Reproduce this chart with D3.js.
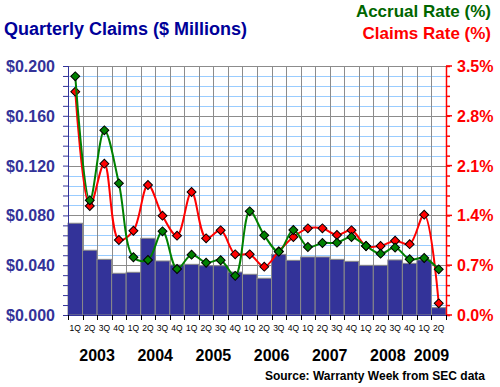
<!DOCTYPE html>
<html>
<head>
<meta charset="utf-8">
<script src="https://cdn.jsdelivr.net/npm/d3@7"></script>
<style>
  body { margin: 0; background: #fff; }
  text { font-family: Arial, "Liberation Sans", sans-serif; }
</style>
</head>
<body>
<div class="chart"></div>
<script>
const years = [2003, 2004, 2005, 2006, 2007, 2008, 2009];
const quarterNames = ["1Q", "2Q", "3Q", "4Q"];
// 2003 Q1 .. 2009 Q2
const claimsMillions = [0.0737, 0.052, 0.0447, 0.0335, 0.0343, 0.0616, 0.0434, 0.0402, 0.0407, 0.0396, 0.0396, 0.0345,
  0.0327, 0.0295, 0.0487, 0.0439, 0.0466, 0.0466, 0.0447, 0.0431, 0.0399, 0.0399, 0.0442, 0.0415, 0.0442, 0.0059];
const accrualRate = [3.355, 1.612, 2.596, 1.851, 0.811, 0.773, 1.176, 0.647, 0.848, 0.735, 0.769, 0.55,
  1.457, 1.12, 0.89, 1.195, 0.956, 1.012, 1.017, 1.096, 0.97, 0.862, 0.948, 0.783, 0.801, 0.642];
const claimsRate = [3.139, 1.532, 2.127, 1.054, 1.185, 1.827, 1.396, 1.115, 1.729, 1.078, 1.19, 0.853,
  0.853, 0.679, 0.895, 1.096, 1.218, 1.218, 1.125, 1.19, 0.97, 0.97, 1.044, 0.996, 1.41, 0.164];
const leftTicks = [0, 0.04, 0.08, 0.12, 0.16, 0.2];
const rightTicks = [0, 0.7, 1.4, 2.1, 2.8, 3.5];

const data = claimsMillions.map((c, i) => ({
  key: i,
  q: quarterNames[i % 4],
  year: years[Math.floor(i / 4)],
  claims: c,
  accrual: accrualRate[i],
  rate: claimsRate[i]
}));

const width = 500, height = 387;
const plot = {left: 68, right: 446, top: 66, bottom: 315};

const svg = d3.select('.chart').append('svg')
  .attr('width', width)
  .attr('height', height);

const x = d3.scaleBand()
  .domain(data.map(d => d.key))
  .range([plot.left, plot.right])
  .padding(0);

const yLeft = d3.scaleLinear().domain([0, 0.2]).range([plot.bottom, plot.top]);
const yRight = d3.scaleLinear().domain([0, 3.5]).range([plot.bottom, plot.top]);

// minor horizontal grid (light blue)
const minorVals = d3.range(0, 26).map(i => i * 0.008);
svg.append('g')
  .selectAll('line')
  .data(minorVals)
  .enter().append('line')
  .attr('x1', plot.left).attr('x2', plot.right)
  .attr('y1', d => Math.round(yLeft(d)) + 0.5)
  .attr('y2', d => Math.round(yLeft(d)) + 0.5)
  .attr('stroke', '#99ccff');

// major horizontal grid (grey)
svg.append('g')
  .selectAll('line')
  .data(leftTicks)
  .enter().append('line')
  .attr('x1', plot.left).attr('x2', plot.right)
  .attr('y1', d => Math.round(yLeft(d)) + 0.5)
  .attr('y2', d => Math.round(yLeft(d)) + 0.5)
  .attr('stroke', '#8c8c8c');

// vertical grid
svg.append('g')
  .selectAll('line')
  .data(data.slice(1))
  .enter().append('line')
  .attr('x1', d => Math.round(x(d.key)) + 0.5)
  .attr('x2', d => Math.round(x(d.key)) + 0.5)
  .attr('y1', plot.top).attr('y2', plot.bottom)
  .attr('stroke', '#8c8c8c');

// bars
svg.append('g')
  .selectAll('rect')
  .data(data)
  .enter().append('rect')
  .attr('x', d => x(d.key))
  .attr('width', x.bandwidth())
  .attr('y', d => yLeft(d.claims))
  .attr('height', d => plot.bottom - yLeft(d.claims))
  .attr('fill', '#333399')
  .attr('stroke', '#8a8a8a')
  .attr('stroke-width', 1);

// left axis
const leftAxis = d3.axisLeft(yLeft)
  .tickValues(minorVals)
  .tickSize(5)
  .tickFormat('');
svg.append('g')
  .attr('class', 'axis y-left')
  .attr('transform', `translate(${plot.left},0)`)
  .call(leftAxis)
  .call(g => g.selectAll('line, path').attr('stroke', '#333399'))
  .call(g => g.select('.domain').attr('d', `M0.5,${plot.top}V${plot.bottom}`));

svg.append('g')
  .selectAll('text')
  .data(leftTicks)
  .enter().append('text')
  .attr('x', 55)
  .attr('y', d => yLeft(d) + 6)
  .attr('text-anchor', 'end')
  .attr('fill', '#333399')
  .style('font-size', '16px')
  .style('font-weight', 'bold')
  .text(d => '$' + d3.format('.3f')(d));

// right axis
const rightMinor = d3.range(0, 26).map(i => i * 0.14);
const rightAxis = d3.axisRight(yRight)
  .tickValues(rightMinor)
  .tickSize(4)
  .tickFormat('');
svg.append('g')
  .attr('class', 'axis y-right')
  .attr('transform', `translate(${plot.right},0)`)
  .call(rightAxis)
  .call(g => g.selectAll('line, path').attr('stroke', '#ff0000').attr('stroke-width', 1.5))
  .call(g => g.select('.domain').attr('d', `M0.5,${plot.top}V${plot.bottom}`));

svg.append('g')
  .selectAll('line')
  .data(rightTicks)
  .enter().append('line')
  .attr('x1', plot.right).attr('x2', plot.right + 6)
  .attr('y1', d => yRight(d)).attr('y2', d => yRight(d))
  .attr('stroke', '#ff0000').attr('stroke-width', 1.5);

svg.append('g')
  .selectAll('text')
  .data(rightTicks)
  .enter().append('text')
  .attr('x', 457)
  .attr('y', d => yRight(d) + 6)
  .attr('fill', '#ff0000')
  .style('font-size', '16px')
  .style('font-weight', 'bold')
  .text(d => d3.format('.1f')(d) + '%');

// bottom axis
const bottomAxis = d3.axisBottom(x)
  .tickSize(0)
  .tickFormat(k => data[k].q);
svg.append('g')
  .attr('class', 'axis x-axis')
  .attr('transform', `translate(0,${plot.bottom})`)
  .call(bottomAxis)
  .call(g => g.select('.domain').attr('stroke', '#333399').attr('d', `M${plot.left},0.5H${plot.right}`))
  .call(g => g.selectAll('text')
    .attr('dy', 0).attr('y', 16)
    .attr('fill', '#000')
    .style('font-size', '8.5px')
    .style('font-family', 'Arial, "Liberation Sans", sans-serif'));

svg.append('g')
  .selectAll('line')
  .data(data.concat([{key: 26}]))
  .enter().append('line')
  .attr('x1', d => Math.round(d.key === 26 ? plot.right : x(d.key)) + 0.5)
  .attr('x2', d => Math.round(d.key === 26 ? plot.right : x(d.key)) + 0.5)
  .attr('y1', plot.bottom).attr('y2', plot.bottom + 5)
  .attr('stroke', '#000');

// year labels
svg.append('g')
  .selectAll('text')
  .data(years)
  .enter().append('text')
  .attr('x', yr => {
    const ks = data.filter(d => d.year === yr);
    return (x(ks[0].key) + x(ks[ks.length - 1].key) + x.bandwidth()) / 2;
  })
  .attr('y', 361)
  .attr('text-anchor', 'middle')
  .attr('fill', '#000')
  .style('font-size', '16px')
  .style('font-weight', 'bold')
  .text(yr => yr);

// lines
const cx = d => x(d.key) + x.bandwidth() / 2;
const diamond = d3.symbol().type(d3.symbolSquare).size(40);

function drawSeries(field, color) {
  const line = d3.line()
    .x(cx)
    .y(d => yRight(d[field]))
    .curve(d3.curveCatmullRom.alpha(0.5));
  svg.append('path')
    .datum(data)
    .attr('fill', 'none')
    .attr('stroke', color)
    .attr('stroke-width', 2)
    .attr('d', line);
  svg.append('g')
    .selectAll('path')
    .data(data)
    .enter().append('path')
    .attr('d', diamond)
    .attr('transform', d => `translate(${cx(d)},${yRight(d[field])}) rotate(45)`)
    .attr('fill', color)
    .attr('stroke', '#000')
    .attr('stroke-width', 1);
}
drawSeries('rate', '#ff0000');
drawSeries('accrual', '#008000');

// titles
svg.append('text')
  .attr('x', 4).attr('y', 35)
  .attr('fill', '#000099')
  .style('font-size', '18px')
  .style('font-weight', 'bold')
  .text('Quarterly Claims ($ Millions)');

svg.append('text')
  .attr('x', 491).attr('y', 17)
  .attr('text-anchor', 'end')
  .attr('fill', '#006600')
  .style('font-size', '17px')
  .style('font-weight', 'bold')
  .text('Accrual Rate (%)');

svg.append('text')
  .attr('x', 491).attr('y', 39)
  .attr('text-anchor', 'end')
  .attr('fill', '#ff0000')
  .style('font-size', '17px')
  .style('font-weight', 'bold')
  .text('Claims Rate (%)');

svg.append('text')
  .attr('x', 485).attr('y', 380)
  .attr('text-anchor', 'end')
  .attr('fill', '#000')
  .style('font-size', '12px')
  .style('font-weight', 'bold')
  .text('Source: Warranty Week from SEC data');
</script>
</body>
</html>
